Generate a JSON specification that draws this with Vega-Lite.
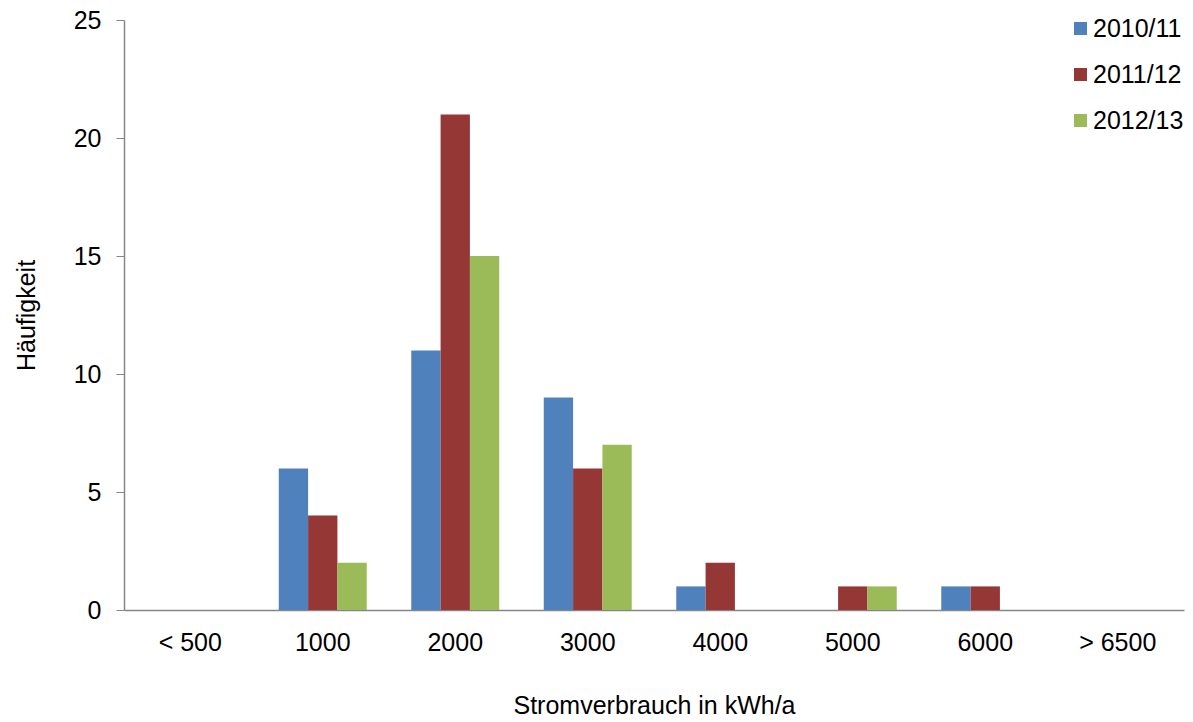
{
  "$schema": "https://vega.github.io/schema/vega-lite/v6.json",
  "width": 1060,
  "height": 590,
  "autosize": {"type": "none"},
  "padding": {"left": 124, "top": 20, "right": 9, "bottom": 112},
  "background": "white",
  "config": {
    "font": "Liberation Sans",
    "view": {"stroke": null}
  },
  "data": {
    "values": [
      {"kat": "< 500", "jahr": "2010/11", "n": 0},
      {"kat": "< 500", "jahr": "2011/12", "n": 0},
      {"kat": "< 500", "jahr": "2012/13", "n": 0},
      {"kat": "1000", "jahr": "2010/11", "n": 6},
      {"kat": "1000", "jahr": "2011/12", "n": 4},
      {"kat": "1000", "jahr": "2012/13", "n": 2},
      {"kat": "2000", "jahr": "2010/11", "n": 11},
      {"kat": "2000", "jahr": "2011/12", "n": 21},
      {"kat": "2000", "jahr": "2012/13", "n": 15},
      {"kat": "3000", "jahr": "2010/11", "n": 9},
      {"kat": "3000", "jahr": "2011/12", "n": 6},
      {"kat": "3000", "jahr": "2012/13", "n": 7},
      {"kat": "4000", "jahr": "2010/11", "n": 1},
      {"kat": "4000", "jahr": "2011/12", "n": 2},
      {"kat": "4000", "jahr": "2012/13", "n": 0},
      {"kat": "5000", "jahr": "2010/11", "n": 0},
      {"kat": "5000", "jahr": "2011/12", "n": 1},
      {"kat": "5000", "jahr": "2012/13", "n": 1},
      {"kat": "6000", "jahr": "2010/11", "n": 1},
      {"kat": "6000", "jahr": "2011/12", "n": 1},
      {"kat": "6000", "jahr": "2012/13", "n": 0},
      {"kat": "> 6500", "jahr": "2010/11", "n": 0},
      {"kat": "> 6500", "jahr": "2011/12", "n": 0},
      {"kat": "> 6500", "jahr": "2012/13", "n": 0}
    ]
  },
  "mark": {"type": "bar"},
  "encoding": {
    "x": {
      "field": "kat",
      "type": "nominal",
      "sort": ["< 500", "1000", "2000", "3000", "4000", "5000", "6000", "> 6500"],
      "scale": {"paddingInner": 0.336, "paddingOuter": 0.168},
      "axis": {
        "title": "Stromverbrauch  in kWh/a",
        "titleFontSize": 25,
        "titleFontWeight": "normal",
        "titleColor": "black",
        "titlePadding": 38,
        "labelAngle": 0,
        "labelFontSize": 25,
        "labelColor": "black",
        "labelPadding": 20,
        "ticks": false,
        "domainColor": "#868686",
        "domainWidth": 1.5,
        "grid": false
      }
    },
    "xOffset": {
      "field": "jahr",
      "type": "nominal",
      "scale": {"paddingInner": 0, "paddingOuter": 0}
    },
    "y": {
      "field": "n",
      "type": "quantitative",
      "scale": {"domain": [0, 25], "nice": false},
      "axis": {
        "title": "Häufigkeit",
        "titleFontSize": 25,
        "titleFontWeight": "normal",
        "titleColor": "black",
        "titlePadding": 34,
        "values": [0, 5, 10, 15, 20, 25],
        "labelFontSize": 25,
        "labelColor": "black",
        "labelPadding": 15,
        "tickSize": 8,
        "tickColor": "#868686",
        "domainColor": "#868686",
        "domainWidth": 1.5,
        "grid": false
      }
    },
    "color": {
      "field": "jahr",
      "type": "nominal",
      "scale": {
        "domain": ["2010/11", "2011/12", "2012/13"],
        "range": ["#4F81BD", "#953735", "#9BBB59"]
      },
      "legend": {
        "title": null,
        "orient": "none",
        "legendX": 944,
        "legendY": -4,
        "symbolType": "square",
        "symbolSize": 169,
        "symbolStrokeWidth": 0,
        "labelFontSize": 25,
        "labelColor": "black",
        "labelOffset": 0,
        "rowPadding": 20
      }
    }
  }
}
